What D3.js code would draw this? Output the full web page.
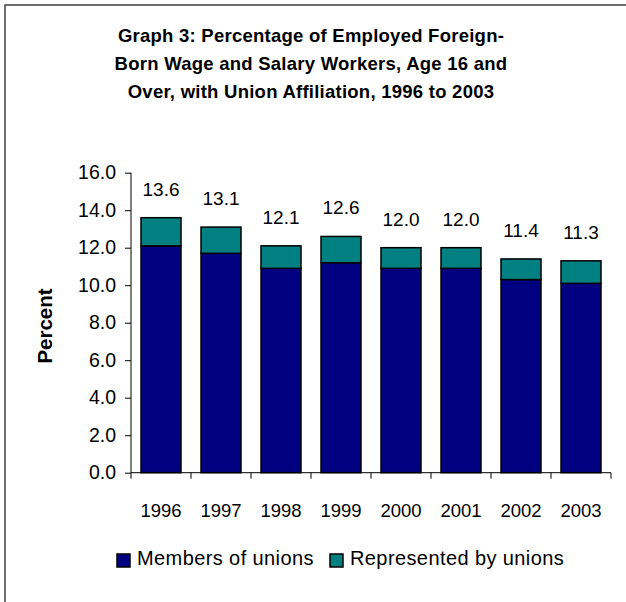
<!DOCTYPE html>
<html>
<head>
<meta charset="utf-8">
<script src="https://cdn.jsdelivr.net/npm/d3@7"></script>
<style>
  body { margin: 0; background: #fff; }
  text { font-family: "Liberation Sans", Arial, sans-serif; fill: #000; }
</style>
</head>
<body>
<script>
var years = ["1996", "1997", "1998", "1999", "2000", "2001", "2002", "2003"]
var members = [12.1, 11.7, 10.9, 11.2, 10.9, 10.9, 10.3, 10.1]
var represented = [1.5, 1.4, 1.2, 1.4, 1.1, 1.1, 1.1, 1.2]
var totals = [13.6, 13.1, 12.1, 12.6, 12.0, 12.0, 11.4, 11.3]
var yTicks = [0, 2, 4, 6, 8, 10, 12, 14, 16]
var seriesNames = ["Members of unions", "Represented by unions"]
var colors = ["#000080", "#008080"]

var data = years.map(function(y, i) {
  return {year: y, m: members[i], r: represented[i], t: totals[i]}
})

var svg = d3.select("body")
            .append("svg")
            .attr("width", 626)
            .attr("height", 602)

// chart area frame (runs past the right and bottom edges)
svg.append("rect")
   .attr("x", 5).attr("y", 5)
   .attr("width", 640).attr("height", 620)
   .attr("fill", "none")
   .attr("stroke", "#404040")
   .attr("stroke-width", 1.5)

var titleLines = [
  "Graph 3: Percentage of Employed Foreign-",
  "Born Wage and Salary Workers, Age 16 and",
  "Over, with Union Affiliation, 1996 to 2003"
]
svg.selectAll("text.title")
   .data(titleLines).enter()
   .append("text")
   .attr("class", "title")
   .attr("x", 311)
   .attr("y", function(d, i) { return 42 + i * 28 })
   .attr("text-anchor", "middle")
   .attr("font-size", "18.5px")
   .attr("font-weight", "bold")
   .attr("letter-spacing", "0.25px")
   .text(function(d) { return d })

var x = d3.scaleBand()
          .domain(years)
          .range([131, 611])
          .paddingInner(1/3)
          .paddingOuter(1/6)

var y = d3.scaleLinear()
          .domain([0, 16])
          .range([472.7, 172.7])

// y axis
var yAxis = svg.append("g")
   .attr("transform", "translate(131,0)")
   .call(d3.axisLeft(y).tickValues(yTicks).tickFormat(d3.format(".1f")).tickSize(6).tickPadding(9))
yAxis.selectAll("text").attr("font-size", "19.5px").style("font-family", "Liberation Sans, Arial, sans-serif")
yAxis.select(".domain").attr("d", "M0," + y(16) + "V" + y(0))

// bars
var groups = svg.selectAll("g.bar")
   .data(data).enter()
   .append("g")
   .attr("class", "bar")

groups.append("rect")
   .attr("x", function(d) { return x(d.year) })
   .attr("width", x.bandwidth())
   .attr("y", function(d) { return y(d.m) })
   .attr("height", function(d) { return y(0) - y(d.m) })
   .attr("fill", colors[0])
   .attr("stroke", "#000")
   .attr("stroke-width", 1.5)

groups.append("rect")
   .attr("x", function(d) { return x(d.year) })
   .attr("width", x.bandwidth())
   .attr("y", function(d) { return y(d.m + d.r) })
   .attr("height", function(d) { return y(d.m) - y(d.m + d.r) })
   .attr("fill", colors[1])
   .attr("stroke", "#000")
   .attr("stroke-width", 1.5)

groups.append("text")
   .attr("x", function(d) { return x(d.year) + x.bandwidth() / 2 })
   .attr("y", function(d) { return y(d.t) - 22 })
   .attr("text-anchor", "middle")
   .attr("font-size", "19px")
   .text(function(d) { return d3.format(".1f")(d.t) })

// x axis
var step = x.step()
var bounds = years.map(function(yr) { return x(yr) - step * x.paddingInner() / 2 })
bounds.push(bounds[bounds.length - 1] + step)

var xg = svg.append("g")
xg.append("line")
  .attr("x1", bounds[0]).attr("x2", bounds[bounds.length - 1])
  .attr("y1", y(0)).attr("y2", y(0))
  .attr("stroke", "#000")
xg.selectAll("line.tick")
  .data(bounds).enter()
  .append("line")
  .attr("class", "tick")
  .attr("x1", function(d) { return d }).attr("x2", function(d) { return d })
  .attr("y1", y(0)).attr("y2", y(0) + 6)
  .attr("stroke", "#000")
xg.selectAll("text")
  .data(years).enter()
  .append("text")
  .attr("x", function(d) { return x(d) + x.bandwidth() / 2 })
  .attr("y", 517)
  .attr("text-anchor", "middle")
  .attr("font-size", "18.5px")
  .text(function(d) { return d })

svg.append("text")
   .attr("transform", "translate(52,326) rotate(-90)")
   .attr("text-anchor", "middle")
   .attr("font-size", "20.5px")
   .attr("font-weight", "bold")
   .text("Percent")

// legend
var legendX = [117, 330]
var leg = svg.selectAll("g.legend")
   .data(seriesNames).enter()
   .append("g")
   .attr("class", "legend")
   .attr("transform", function(d, i) { return "translate(" + legendX[i] + ",554)" })
leg.append("rect")
   .attr("width", 13).attr("height", 13)
   .attr("fill", function(d, i) { return colors[i] })
   .attr("stroke", "#000")
   .attr("stroke-width", 1.5)
leg.append("text")
   .attr("x", 20).attr("y", 11)
   .attr("font-size", "20px")
   .attr("letter-spacing", "0.4px")
   .text(function(d) { return d })
</script>
</body>
</html>
